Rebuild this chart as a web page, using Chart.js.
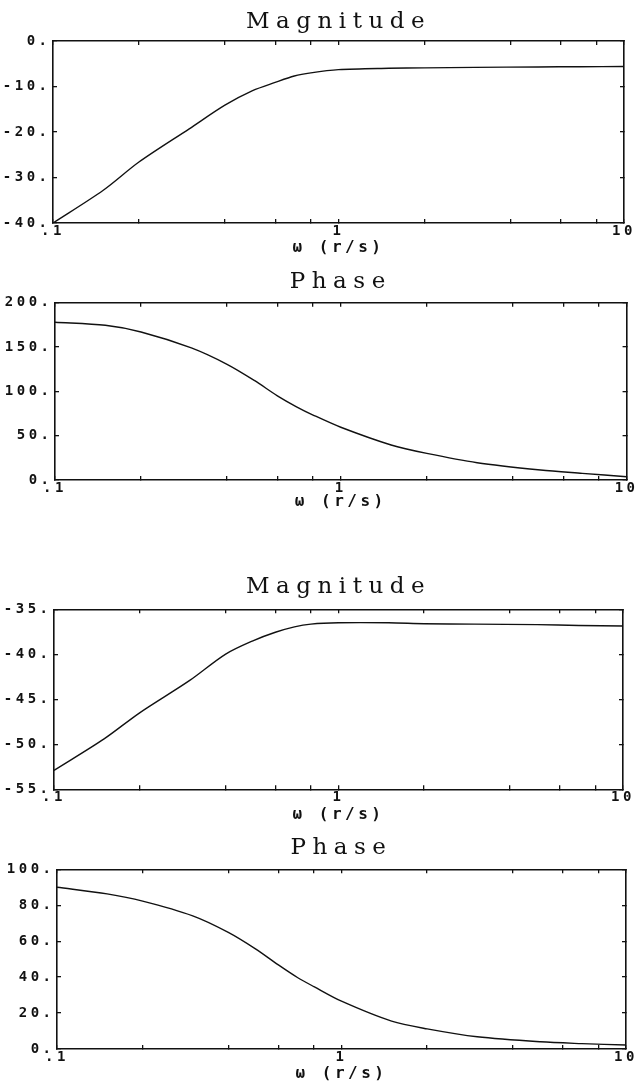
<!DOCTYPE html>
<html>
<head>
<meta charset="utf-8">
<script src="https://cdn.jsdelivr.net/npm/chart.js@4/dist/chart.umd.min.js"></script>
<style>
  html, body { margin: 0; padding: 0; background: #fff; }
  body { width: 639px; height: 1091px; position: relative; overflow: hidden; }
  canvas { position: absolute; left: 0; }
</style>
</head>
<body>
<canvas id="mag1" width="639" height="262" style="top:0px"></canvas>
<canvas id="ph1" width="639" height="258" style="top:262px"></canvas>
<canvas id="mag2" width="639" height="270" style="top:560px"></canvas>
<canvas id="ph2" width="639" height="261" style="top:830px"></canvas>
<script>
// frequency grid (rad/s) the curves are read at
const omega = [0.1, 0.15, 0.2, 0.3, 0.4, 0.5, 0.6, 0.7, 0.8, 1, 1.5, 2, 3, 5, 7, 10];

// first system
const magnitude1 = [-40, -32.8, -26.6, -19.3, -14.1, -10.9, -9.1, -7.7, -7.0, -6.3, -6.0, -5.9, -5.8, -5.7, -5.65, -5.6];
const phase1 = [178, 174.5, 167, 149, 130.5, 112, 95, 82.6, 73.3, 59.5, 39.5, 30, 19.5, 11.3, 7.5, 3.7];

// second system
const magnitude2 = [-52.9, -49.4, -46.5, -42.9, -40.0, -38.5, -37.55, -36.95, -36.65, -36.5, -36.5, -36.6, -36.65, -36.7, -36.8, -36.85];
const phase2 = [90, 86.3, 82.3, 74.1, 64.9, 55.6, 46.8, 39.8, 34.7, 26.6, 15.5, 11.2, 6.8, 4.0, 3.0, 2.2];

// x axis tick marks and the ones that carry a label
const xTickValues = [0.1, 0.2, 0.4, 0.6, 0.8, 1, 2, 4, 6, 8, 10];
const xLabelValues = [0.1, 1, 10];
const xLabelText = [".1", "1", "10"];

const ink = "#111";
const titleSpacing = "6.5px";
const textSpacing = "3.5px";

// wide typewriter-like spacing; the title gets more than the axis text
const spacingPlugin = {
  id: "spacing",
  beforeDraw(chart) {
    const block = chart.titleBlock;
    if (block && !block._spaced) {
      const draw = block.draw.bind(block);
      block.draw = function () {
        chart.ctx.letterSpacing = titleSpacing;
        draw();
        chart.ctx.letterSpacing = textSpacing;
      };
      block._spaced = true;
    }
    chart.ctx.letterSpacing = textSpacing;
  }
};

function xTicks(scale) {
  scale.ticks = xTickValues.map(v => ({ value: v }));
}

const tickFont = { family: "DejaVu Sans Mono", size: 14, weight: "bold" };

function makeChart(id, title, values, yMin, yMax, yStep, box) {
  const ctx = document.getElementById(id).getContext("2d");
  const points = omega.map((w, i) => ({ x: w, y: values[i] }));

  const tickGrid = { drawOnChartArea: false, drawTicks: true, tickLength: -4, color: ink, lineWidth: 1.3 };
  const frame = { display: true, color: ink, width: 1.6 };

  return new Chart(ctx, {
    type: "line",
    data: {
      datasets: [{
        data: points,
        borderColor: ink,
        borderWidth: 1.4,
        pointRadius: 0,
        tension: 0.3,
        fill: false
      }]
    },
    options: {
      responsive: false,
      devicePixelRatio: 1,
      animation: false,
      layout: { padding: { left: 0, right: box.right, top: 0, bottom: 0 } },
      scales: {
        x: {
          type: "logarithmic",
          position: "bottom",
          min: 0.1,
          max: 10,
          afterBuildTicks: xTicks,
          afterFit(s) { s.height = box.xHeight; },
          grid: tickGrid,
          border: frame,
          ticks: {
            autoSkip: false,
            maxRotation: 0,
            padding: 4,
            color: ink,
            font: tickFont,
            callback: v => {
              const k = xLabelValues.indexOf(v);
              return k >= 0 ? xLabelText[k] : "";
            }
          },
          title: {
            display: true,
            text: "ω (r/s)",
            color: ink,
            font: { family: "DejaVu Sans Mono", size: 16, weight: "bold" },
            padding: { top: 0, bottom: box.xTitleBottom }
          }
        },
        x2: {
          type: "logarithmic",
          position: "top",
          min: 0.1,
          max: 10,
          afterBuildTicks: xTicks,
          afterFit(s) { s.height = 0; },
          grid: tickGrid,
          border: frame,
          ticks: { display: false }
        },
        y: {
          type: "linear",
          position: "left",
          min: yMin,
          max: yMax,
          afterFit(s) { s.width = box.left; },
          grid: tickGrid,
          border: frame,
          ticks: {
            stepSize: yStep,
            padding: 6.5,
            color: ink,
            font: tickFont,
            callback: v => v + "."
          }
        },
        y2: {
          type: "linear",
          position: "right",
          min: yMin,
          max: yMax,
          afterFit(s) { s.width = 0; },
          grid: tickGrid,
          border: frame,
          ticks: { stepSize: yStep, display: false }
        }
      },
      plugins: {
        legend: { display: false },
        tooltip: { enabled: false },
        title: {
          display: true,
          fullSize: false,
          text: title,
          color: ink,
          font: { family: "DejaVu Serif", size: 23, weight: "normal", lineHeight: 1.2 },
          padding: { top: box.titleTop, bottom: box.titleBottom }
        }
      }
    },
    plugins: [spacingPlugin]
  });
}

makeChart("mag1", "Magnitude", magnitude1, -40, 0, 10,
  { left: 53, right: 15, titleTop: 8, titleBottom: 5.4, xHeight: 39, xTitleBottom: 4.4 });
makeChart("ph1", "Phase", phase1, 0, 200, 50,
  { left: 55, right: 12, titleTop: 6.2, titleBottom: 6.9, xHeight: 40, xTitleBottom: 8.4 });
makeChart("mag2", "Magnitude", magnitude2, -55, -35, 5,
  { left: 54, right: 16, titleTop: 13.2, titleBottom: 8.5, xHeight: 40.7, xTitleBottom: 5.4 });
makeChart("ph2", "Phase", phase2, 0, 100, 20,
  { left: 57, right: 13, titleTop: 4.2, titleBottom: 7.5, xHeight: 42, xTitleBottom: 7.4 });
</script>
</body>
</html>
